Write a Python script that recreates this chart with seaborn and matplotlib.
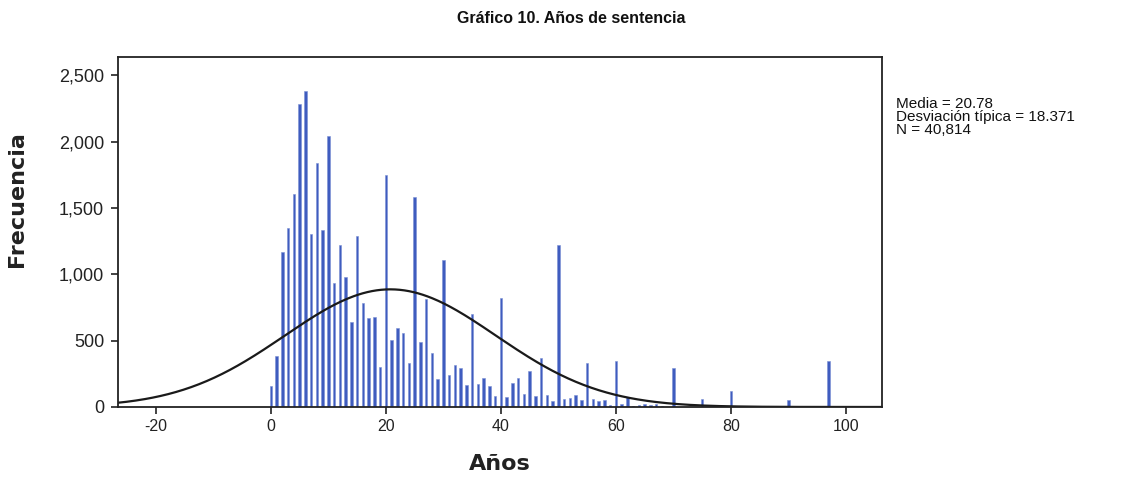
import numpy as np
import pandas as pd
import matplotlib
matplotlib.use("Agg")
import matplotlib.pyplot as plt
import seaborn as sns

# ---- data ----
years = [0, 1, 2, 3, 4, 5, 6, 7, 8, 9, 10,
         11, 12, 13, 14, 15, 16, 17, 18, 19, 20,
         21, 22, 23, 24, 25, 26, 27, 28, 29, 30,
         31, 32, 33, 34, 35, 36, 37, 38, 39, 40,
         41, 42, 43, 44, 45, 46, 47, 48, 49, 50,
         51, 52, 53, 54, 55, 56, 57, 58, 59, 60,
         61, 62, 63, 64, 65, 66, 67, 68, 70, 75, 80, 90, 97]
counts = [160, 382, 1164, 1345, 1602, 2283, 2381, 1302, 1835, 1332, 2044,
          935, 1219, 980, 641, 1290, 784, 671, 679, 302, 1747,
          508, 596, 558, 335, 1584, 486, 812, 410, 209, 1106,
          244, 314, 294, 169, 697, 176, 222, 156, 81, 822,
          75, 184, 222, 101, 272, 81, 370, 93, 45, 1219,
          63, 68, 88, 50, 332, 63, 43, 50, 18, 347,
          25, 75, 10, 15, 22, 15, 20, 10, 290, 63, 118, 50, 347]
media = 20.78
desv = 18.371
n_total = 40814
stats_lines = ["Media = 20.78", "Desviación típica = 18.371", "N = 40,814"]
title = "Gráfico 10. Años de sentencia"
xlabel = "Años"
ylabel = "Frecuencia"
xticks = [-20, 0, 20, 40, 60, 80, 100]
yticks = [0, 500, 1000, 1500, 2000, 2500]

sns.set_theme(style="white")
plt.rcParams['font.family'] = ['Liberation Sans', 'DejaVu Sans']

fig = plt.figure(figsize=(11.43, 4.87), dpi=100)
ax = fig.add_axes([0.1032, 0.1643, 0.6685, 0.7187])

df = pd.DataFrame({"Años": years, "Frecuencia": counts})
sns.histplot(data=df, x="Años", weights="Frecuencia", discrete=True, shrink=0.45,
             color="#3f5cbf", edgecolor="#7b90d4", linewidth=0.4, alpha=1.0, ax=ax)

# normal curve from the shown statistics (bin width 1)
xs = np.linspace(-27, 107, 500)
ys = n_total * 1.0 / (desv * np.sqrt(2 * np.pi)) * np.exp(-0.5 * ((xs - media) / desv) ** 2)
sns.lineplot(x=xs, y=ys, color="#1a1a1a", linewidth=1.6, ax=ax)

ax.set_xlim(-26.6, 106.3)
ax.set_ylim(0, 2637)
ax.set_xticks(xticks)
ax.set_yticks(yticks)
ax.set_yticklabels([f"{v:,}" for v in yticks])
ax.set_xticklabels([str(v) for v in xticks])
ax.tick_params(axis="both", which="both", direction="out", length=5, width=1.2,
               color="#222222", labelcolor="#222222", bottom=True, left=True)
ax.tick_params(axis="x", pad=4, labelsize=11.5)
ax.tick_params(axis="y", pad=5, labelsize=13)
for s in ax.spines.values():
    s.set_color("#222222")
    s.set_linewidth(1.3)
    s.set_visible(True)

ax.set_xlabel(xlabel, fontsize=16, fontweight="bold", color="#222222",
              family=["DejaVu Sans"])
ax.set_ylabel(ylabel, fontsize=16, fontweight="bold", color="#222222",
              family=["DejaVu Sans"])
ax.xaxis.set_label_coords(0.5, -0.135)
ax.yaxis.set_label_coords(-0.119, 0.595)

fig.text(0.4996, 0.962, title, ha="center", va="center", fontsize=11.5,
         fontweight="bold", color="#111111")

fig.text(0.784, 0.801, "\n".join(stats_lines), ha="left", va="top", fontsize=11,
         color="#111111", linespacing=0.93)

fig.savefig("out.png", dpi=100, facecolor="white")
